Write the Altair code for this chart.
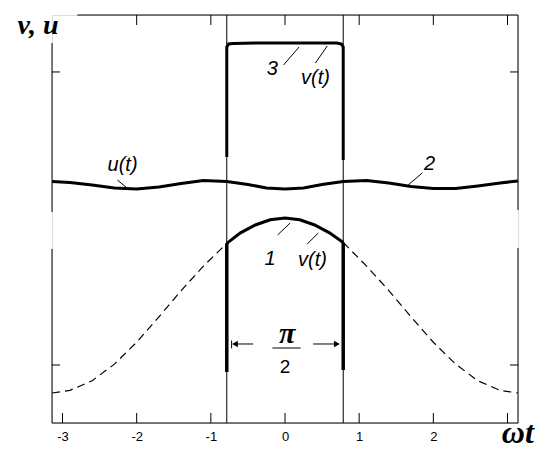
import altair as alt
import pandas as pd

XMIN, XMAX = -3.1416, 3.1416
YMIN, YMAX = -1.343, 3.32

# ---- curve data ----
# lower panel, curve 1: dashed flanks and thick arc
dash_left_x = [-3.14, -2.9, -2.6, -2.3, -2.0, -1.7, -1.4, -1.1, -0.785]
dash_left_y = [-1.0, -0.97, -0.86, -0.67, -0.42, -0.13, 0.17, 0.45, 0.71]
dash_right_x = [0.785, 1.1, 1.4, 1.7, 2.0, 2.3, 2.6, 2.9, 3.14]
dash_right_y = [0.72, 0.45, 0.17, -0.13, -0.42, -0.67, -0.86, -0.97, -1.0]
arc_x = [-0.785, -0.6, -0.4, -0.2, 0.0, 0.2, 0.4, 0.6, 0.785]
arc_y = [0.71, 0.83, 0.92, 0.98, 1.0, 0.98, 0.92, 0.83, 0.72]

# upper panel, curve 2: u(t)
u_x = [-3.14, -2.9, -2.6, -2.3, -2.0, -1.7, -1.4, -1.1, -0.785, -0.5, -0.25, 0.0,
       0.25, 0.5, 0.785, 1.1, 1.4, 1.7, 2.0, 2.3, 2.6, 2.9, 3.14]
u_y = [1.417, 1.406, 1.377, 1.343, 1.331, 1.354, 1.394, 1.429, 1.417, 1.383, 1.343, 1.331,
       1.343, 1.383, 1.417, 1.429, 1.400, 1.360, 1.337, 1.337, 1.366, 1.400, 1.423]

# upper panel, curve 3: square pulse v(t)
pulse_x = [-0.785, -0.785, -0.76, -0.70, -0.4, 0.0, 0.4, 0.70, 0.76, 0.785, 0.785]
pulse_y = [1.697, 2.954, 2.989, 2.994, 3.0, 3.0, 3.0, 3.0, 2.989, 2.954, 1.663]

# thick vertical edges of the lower pulse
thick_vx = [-0.785, 0.785]
thick_vy = [0.71, 0.72]
thick_vy2 = [-0.76, -0.737]

x_tick_labels = [-3, -2, -1, 0, 1, 2]
top_ticks = [-2, -1, 0, 1, 2, 3]
bottom_ticks = [-3, -2, -1, 0, 1, 2, 3]
side_ticks_y = [2.669, -0.68]


def X(field="x"):
    return alt.X(
        f"{field}:Q",
        scale=alt.Scale(domain=[XMIN, XMAX], nice=False, zero=False),
        axis=alt.Axis(
            values=x_tick_labels, domain=False, ticks=False, grid=False,
            labelFont="Liberation Sans", labelFontSize=13, labelPadding=7,
            labelColor="black", title=None,
            labelExpr="datum.value < 0 ? '-' + abs(datum.value) : '' + datum.value",
        ),
    )


def Y(field="y"):
    return alt.Y(f"{field}:Q",
                 scale=alt.Scale(domain=[YMIN, YMAX], nice=False, zero=False),
                 axis=None)


# ---- lines ----
rows = []
def add_series(name, xs, ys):
    for i, (a, b) in enumerate(zip(xs, ys)):
        rows.append({"x": a, "y": b, "s": name, "o": i})

add_series("u", u_x, u_y)
add_series("pulse", pulse_x, pulse_y)
add_series("arc", arc_x, arc_y)
thick_df = pd.DataFrame(rows)

drows = []
for i, (a, b) in enumerate(zip(dash_left_x, dash_left_y)):
    drows.append({"x": a, "y": b, "s": "L", "o": i})
for i, (a, b) in enumerate(zip(dash_right_x, dash_right_y)):
    drows.append({"x": a, "y": b, "s": "R", "o": i})
dash_df = pd.DataFrame(drows)

thick_lines = alt.Chart(thick_df).mark_line(color="black", strokeWidth=3).encode(
    x=X(), y=Y(), detail="s:N", order="o:Q")
dash_lines = alt.Chart(dash_df).mark_line(color="black", strokeWidth=1.2, strokeDash=[8, 5]).encode(
    x=X(), y=Y(), detail="s:N", order="o:Q")

thick_v = alt.Chart(pd.DataFrame({"x": thick_vx, "y": thick_vy, "y2": thick_vy2})).mark_rule(
    color="black", strokeWidth=3.5).encode(x=X(), y=Y(), y2="y2:Q")

# ---- thin segments: frame, guide lines, ticks, leaders ----
seg = []
def S(x1, y1, x2, y2):
    seg.append({"x": x1, "y": y1, "x2": x2, "y2": y2})

S(-2.80, YMAX, XMAX, YMAX)          # top frame
S(XMIN, 3.0, XMIN, 1.069)           # left upper axis
S(XMAX, YMAX, XMAX, 1.091)          # right upper axis
S(XMIN, 0.646, XMIN, YMIN)          # left lower axis
S(XMAX, 0.657, XMAX, YMIN)          # right lower axis
S(XMIN, YMIN, XMAX, YMIN)           # bottom axis
S(-0.785, YMAX, -0.785, YMIN)       # guide at -pi/4
S(0.785, YMAX, 0.785, YMIN)         # guide at +pi/4
for t in top_ticks:
    S(t, YMAX, t, YMAX - 0.114)
for t in bottom_ticks:
    S(t, YMIN, t, YMIN + 0.114)
for yy in side_ticks_y:
    S(XMIN, yy, XMIN + 0.108, yy)
    S(XMAX, yy, XMAX - 0.108, yy)
# leaders
S(-0.02, 2.749, 0.19, 2.954)
S(0.41, 2.771, 0.57, 2.966)
S(-2.26, 1.434, -2.13, 1.343)
S(1.85, 1.514, 1.66, 1.377)
S(-0.10, 0.806, 0.07, 0.943)
S(0.30, 0.703, 0.45, 0.829)
# fraction bar and arrow shafts
S(-0.17, -0.486, 0.21, -0.486)
S(-0.67, -0.44, -0.43, -0.44)
S(0.38, -0.44, 0.705, -0.44)
S(-0.72, -0.40, -0.72, -0.49)
seg_df = pd.DataFrame(seg)

thin = alt.Chart(seg_df).mark_rule(color="black", strokeWidth=1).encode(
    x=X(), y=Y(), x2="x2:Q", y2="y2:Q")

arrows = alt.Chart(pd.DataFrame({"x": [-0.675, 0.70], "y": [-0.44, -0.44],
                                 "shape": ["triangle-left", "triangle-right"]})).mark_point(
    filled=True, color="black", size=45, opacity=1).encode(
    x=X(), y=Y(), shape=alt.Shape("shape:N", scale=None))

# ---- texts ----
lab_df = pd.DataFrame({
    "x": [-0.17, 0.41, -2.19, 1.95, -0.20, 0.37],
    "y": [2.634, 2.531, 1.537, 1.549, 0.463, 0.451],
    "t": ["3", "v(t)", "u(t)", "2", "1", "v(t)"],
})
labels = alt.Chart(lab_df).mark_text(font="Liberation Sans", fontStyle="italic", fontSize=20,
                                     baseline="alphabetic", align="center", color="black").encode(
    x=X(), y=Y(), text="t:N")

two = alt.Chart(pd.DataFrame({"x": [0.0], "y": [-0.771], "t": ["2"]})).mark_text(
    font="Liberation Sans", fontSize=19, baseline="alphabetic", align="center", color="black").encode(
    x=X(), y=Y(), text="t:N")

serif_df = pd.DataFrame({
    "x": [0.03, 3.14, -3.33],
    "y": [-0.429, -1.571, 3.108],
    "t": ["π", "ωt", "v, u"],
    "fs": [30, 32, 28],
})
serif = alt.Chart(serif_df).mark_text(font="Liberation Serif", fontStyle="italic", fontWeight="bold",
                                      baseline="alphabetic", align="center", color="black").encode(
    x=X(), y=Y(), text="t:N", size=alt.Size("fs:Q", scale=None))

chart = alt.layer(thin, dash_lines, thick_lines, thick_v, arrows, labels, two, serif).properties(
    width=466, height=408,
    autosize=alt.AutoSizeParams(type="none"),
    padding={"left": 44, "top": 7, "right": 24, "bottom": 32},
).configure_view(stroke=None).configure(background="white")

chart.save("out.html", embed_options={"renderer": "svg", "actions": False})
